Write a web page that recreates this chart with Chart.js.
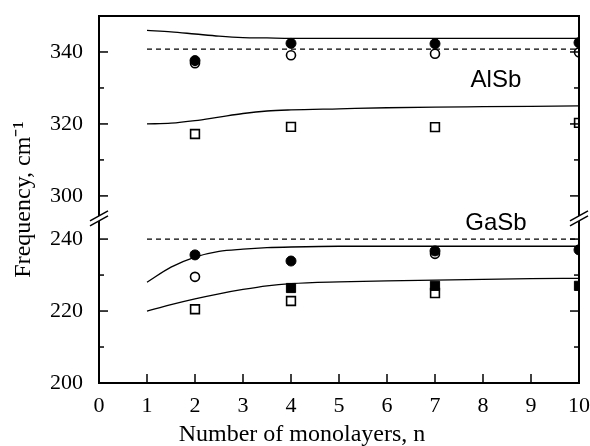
<!DOCTYPE html>
<html lang="en">
<head>
<meta charset="UTF-8">
<title>Frequency vs number of monolayers</title>
<script src="https://cdn.jsdelivr.net/npm/chart.js@4.4.1/dist/chart.umd.min.js"></script>
<style>
  html, body { margin: 0; padding: 0; background: #fff; }
  canvas { display: block; }
</style>
</head>
<body>
<canvas id="chart" width="590" height="446"></canvas>
<script>
// measured points (n = 2, 4, 7, 10)
const ptsN = [2, 4, 7, 10];
const alsbFilledCircle = [337.6, 342.4, 342.3, 342.6];
const alsbOpenCircle = [336.9, 339.1, 339.5, 339.9];
const alsbOpenSquare = [317.2, 319.2, 319.1, 320.3];
const gasbFilledCircle = [235.6, 233.9, 236.7, 237.0];
const gasbOpenCircle = [229.5, null, 235.9, null];
const gasbFilledSquare = [null, 226.4, 227.0, 227.0];
const gasbOpenSquare = [220.5, 222.8, 225.0, null];

// calculated curves
const curveN = [1, 1.5, 2, 2.5, 3, 3.5, 4, 5, 6, 7, 8, 9, 10];
const alsbUpperCurve = [346, 345.6, 345, 344.4, 344, 343.9, 343.8, 343.8, 343.8, 343.8, 343.8, 343.8, 343.8];
const alsbLowerCurve = [320, 320.2, 320.9, 321.9, 322.9, 323.6, 323.9, 324.2, 324.5, 324.7, 324.8, 324.9, 325];
const gasbUpperCurve = [228, 232.2, 235, 236.6, 237.2, 237.6, 237.8, 238, 238, 238, 238, 238, 238];
const gasbLowerCurve = [220, 221.8, 223.4, 224.8, 226, 227, 227.6, 228.1, 228.4, 228.6, 228.8, 229, 229.1];

// bulk frequencies (dashed)
const bulkN = [1, 10];
const alsbBulk = [340.8, 340.8];
const gasbBulk = [240, 240];

const xTicks = [0, 1, 2, 3, 4, 5, 6, 7, 8, 9, 10];
const yMajor = [200, 220, 240, 300, 320, 340];
const yMinor = [210, 230, 310, 330];

// broken axis: values from 245 to 294.5 are cut out
const GAP_LOW = 245;
const GAP_HIGH = 294.5;
const SHIFT = 48;
const ax = v => (v == null ? null : v > 270 ? v - SHIFT : v);
const unax = t => (t > GAP_LOW ? t + SHIFT : t);
const BREAK_MID = (GAP_LOW + GAP_HIGH - SHIFT) / 2;

const labels = [
  { text: 'AlSb', n: 8.27, v: 332.2 },
  { text: 'GaSb', n: 8.27, v: 244.4 },
];
const xTitle = 'Number of monolayers, n';
const yTitle = 'Frequency, cm⁻¹';

const serif = '"Liberation Serif", "Times New Roman", serif';
const pairs = (xs, ys) => xs.map((x, i) => ({ x, y: ax(ys[i]) })).filter(p => p.y != null);

function marker(data, style, filled, radius) {
  return {
    data: pairs(ptsN, data),
    pointStyle: style,
    pointRadius: radius,
    pointBackgroundColor: filled ? '#000' : '#fff',
    pointBorderColor: '#000',
    pointBorderWidth: filled ? 1 : 1.6,
    showLine: false,
    clip: 0,
  };
}

function curve(xs, ys, dashed) {
  return {
    data: pairs(xs, ys),
    showLine: true,
    pointRadius: 0,
    borderColor: '#000',
    borderWidth: 1.3,
    borderDash: dashed ? [5, 4] : [],
    cubicInterpolationMode: 'monotone',
    clip: 0,
  };
}

// draws the frame, inward ticks, axis breaks, x title and material labels
const framePlugin = {
  id: 'frame',
  afterDraw(chart) {
    const { ctx, chartArea: a, scales: { x, y } } = chart;
    const line = (x1, y1, x2, y2) => { ctx.beginPath(); ctx.moveTo(x1, y1); ctx.lineTo(x2, y2); ctx.stroke(); };
    ctx.save();
    ctx.strokeStyle = '#000';
    ctx.lineWidth = 1.5;
    y.ticks.forEach(t => {
      const py = y.getPixelForValue(t.value);
      const len = yMajor.includes(unax(t.value)) ? 9 : 5;
      line(a.left, py, a.left + len, py);
      line(a.right, py, a.right - len, py);
    });
    x.ticks.forEach(t => {
      const px = x.getPixelForValue(t.value);
      line(px, a.bottom, px, a.bottom - 9);
    });
    ctx.lineWidth = 2;
    ctx.strokeRect(a.left, a.top, a.right - a.left, a.bottom - a.top);

    const yc = y.getPixelForValue(BREAK_MID);
    const g = 2.5;
    [a.left, a.right].forEach(x0 => {
      ctx.fillStyle = '#fff';
      ctx.beginPath();
      ctx.moveTo(x0 - 9, yc - g + 5);
      ctx.lineTo(x0 + 9, yc - g - 5);
      ctx.lineTo(x0 + 9, yc + g - 5);
      ctx.lineTo(x0 - 9, yc + g + 5);
      ctx.closePath();
      ctx.fill();
      ctx.lineWidth = 1.5;
      line(x0 - 9, yc - g + 5, x0 + 9, yc - g - 5);
      line(x0 - 9, yc + g + 5, x0 + 9, yc + g - 5);
    });

    ctx.fillStyle = '#000';
    ctx.font = '24px "Liberation Sans", Arial, sans-serif';
    ctx.textAlign = 'center';
    ctx.textBaseline = 'middle';
    labels.forEach(l => ctx.fillText(l.text, x.getPixelForValue(l.n), y.getPixelForValue(ax(l.v))));

    ctx.font = '24px ' + serif;
    ctx.textBaseline = 'alphabetic';
    ctx.fillText(xTitle, 302, 441);
    ctx.restore();
  },
};

new Chart(document.getElementById('chart'), {
  type: 'scatter',
  data: {
    datasets: [
      marker(alsbFilledCircle, 'circle', true, 5),
      marker(gasbFilledCircle, 'circle', true, 5),
      marker(gasbFilledSquare, 'rect', true, 6.5),
      marker(alsbOpenCircle, 'circle', false, 4.5),
      marker(gasbOpenCircle, 'circle', false, 4.5),
      marker(alsbOpenSquare, 'rect', false, 6.2),
      marker(gasbOpenSquare, 'rect', false, 6.2),
      curve(curveN, alsbUpperCurve, false),
      curve(curveN, alsbLowerCurve, false),
      curve(curveN, gasbUpperCurve, false),
      curve(curveN, gasbLowerCurve, false),
      curve(bulkN, alsbBulk, true),
      curve(bulkN, gasbBulk, true),
    ],
  },
  options: {
    responsive: false,
    animation: false,
    events: [],
    layout: { padding: { left: 0, right: 11, top: 16, bottom: 0 } },
    plugins: { legend: { display: false }, tooltip: { enabled: false } },
    scales: {
      x: {
        type: 'linear',
        min: 0,
        max: 10,
        grid: { display: false },
        border: { display: false },
        afterBuildTicks: s => { s.ticks = xTicks.map(v => ({ value: v })); },
        afterFit: s => { s.height = 63; s.paddingLeft = 0; s.paddingRight = 0; },
        ticks: { color: '#000', padding: 2, font: { family: serif, size: 22 } },
      },
      y: {
        type: 'linear',
        min: 200,
        max: ax(350),
        grid: { display: false },
        border: { display: false },
        afterBuildTicks: s => { s.ticks = [...yMajor, ...yMinor].map(v => ({ value: ax(v) })); },
        afterFit: s => { s.width = 99; s.paddingTop = 0; s.paddingBottom = 0; },
        ticks: {
          color: '#000',
          padding: 8,
          font: { family: serif, size: 22 },
          callback: value => {
            const v = Math.round(unax(value));
            return yMajor.includes(v) ? String(v) : '';
          },
        },
        title: {
          display: true,
          text: yTitle,
          color: '#000',
          padding: { top: 9, bottom: 0 },
          font: { family: serif, size: 24 },
        },
      },
    },
  },
  plugins: [framePlugin],
});
</script>
</body>
</html>
